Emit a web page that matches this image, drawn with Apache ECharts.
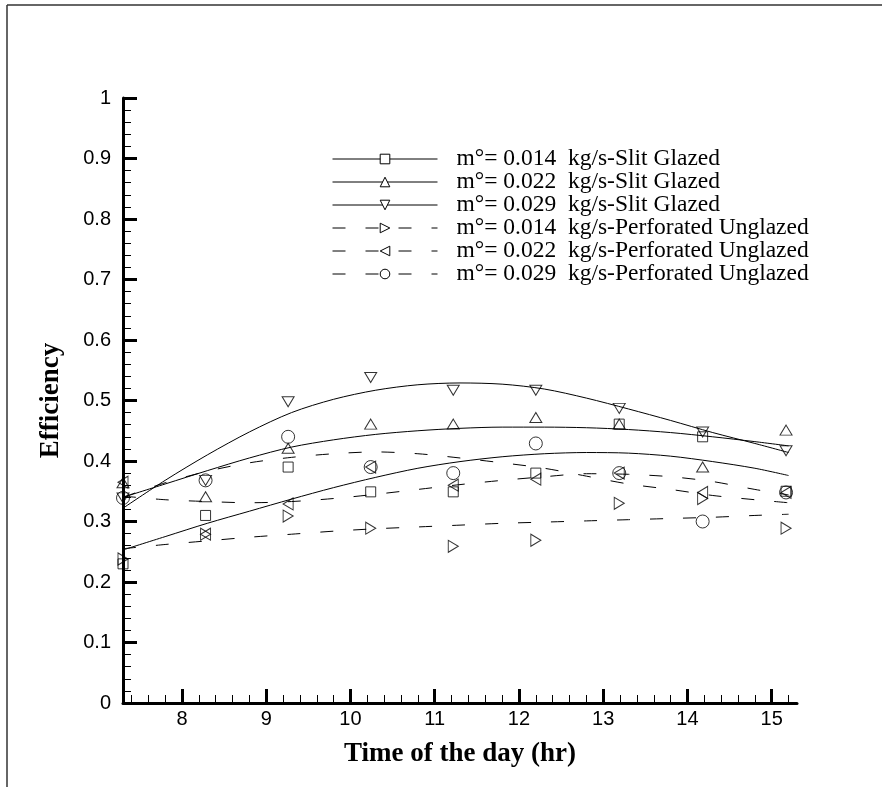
<!DOCTYPE html>
<html lang="en">
  <head>
    <meta charset="UTF-8" />
    <title>Efficiency vs time of the day</title>
    <script src="https://cdn.jsdelivr.net/npm/echarts@6.0.0/dist/echarts.min.js"></script>
    <style>
      html, body { margin: 0; padding: 0; background: #fff; }
    </style>
  </head>
  <body>
    <div id="main" style="width: 882px; height: 787px"></div>

    <script type="text/javascript">
      // measurement times (hr)
      const hours = [7.3, 8.28, 9.26, 10.24, 11.22, 12.2, 13.19, 14.18, 15.17];
      // times at which the fitted curves were read
      const fitHours = [7.3, 7.8, 8.3, 8.8, 9.3, 9.8, 10.3, 10.8, 11.3, 11.8, 12.3, 12.8, 13.3, 13.8, 14.3, 14.8, 15.2];
      const xTicks = [8, 9, 10, 11, 12, 13, 14, 15];

      const names = [
        "m°= 0.014  kg/s-Slit Glazed",
        "m°= 0.022  kg/s-Slit Glazed",
        "m°= 0.029  kg/s-Slit Glazed",
        "m°= 0.014  kg/s-Perforated Unglazed",
        "m°= 0.022  kg/s-Perforated Unglazed",
        "m°= 0.029  kg/s-Perforated Unglazed",
      ];

      // measured points
      const slit014 = [0.23, 0.31, 0.39, 0.349, 0.349, 0.38, 0.461, 0.44, 0.35];
      const slit022 = [0.364, 0.341, 0.421, 0.461, 0.461, 0.472, 0.461, 0.39, 0.451];
      const slit029 = [0.339, 0.368, 0.498, 0.538, 0.517, 0.517, 0.487, 0.448, 0.417];
      const perf014 = [0.238, 0.279, 0.309, 0.289, 0.259, 0.269, 0.33, 0.338, 0.289];
      const perf022 = [0.365, 0.279, 0.329, 0.39, 0.36, 0.37, 0.38, 0.348, 0.348];
      const perf029 = [0.339, 0.368, 0.44, 0.39, 0.38, 0.429, 0.38, 0.3, 0.348];

      // fitted curves, read at fitHours
      const slit014Fit = [0.253, 0.275, 0.297, 0.317, 0.337, 0.356, 0.373, 0.388, 0.399, 0.407, 0.412, 0.414, 0.413, 0.408, 0.399, 0.388, 0.376];
      const slit022Fit = [0.34, 0.362, 0.384, 0.405, 0.423, 0.435, 0.444, 0.45, 0.454, 0.456, 0.456, 0.455, 0.452, 0.447, 0.44, 0.432, 0.425];
      const slit029Fit = [0.322, 0.368, 0.41, 0.448, 0.48, 0.502, 0.517, 0.526, 0.529, 0.527, 0.519, 0.504, 0.486, 0.467, 0.447, 0.429, 0.414];
      const perf014Fit = [0.255, 0.262, 0.268, 0.274, 0.279, 0.284, 0.288, 0.291, 0.294, 0.297, 0.299, 0.301, 0.303, 0.305, 0.307, 0.31, 0.312];
      const perf022Fit = [0.342, 0.336, 0.333, 0.331, 0.333, 0.338, 0.345, 0.353, 0.361, 0.368, 0.374, 0.379, 0.378, 0.374, 0.366, 0.353, 0.344];
      const perf029Fit = [0.34, 0.364, 0.383, 0.397, 0.406, 0.412, 0.415, 0.412, 0.405, 0.397, 0.388, 0.375, 0.362, 0.353, 0.343, 0.336, 0.331];

      const points = [slit014, slit022, slit029, perf014, perf022, perf029];
      const fits = [slit014Fit, slit022Fit, slit029Fit, perf014Fit, perf022Fit, perf029Fit];

      const symbols = ["rect", "triangle", "triangle", "triangle", "triangle", "circle"];
      const rotations = [0, 0, 180, -90, 90, 0];
      const sizes = [[10, 10], [12, 10], [12, 10], [12, 10], [12, 10], [13, 13]];
      const dashed = [false, false, false, true, true, true];

      // minor ticks every 0.2 hr
      const xMinor = [];
      for (let v = 7.4; v < 15.3; v += 0.2) {
        const r = Math.round(v * 10) / 10;
        if (Math.abs(r - Math.round(r)) > 0.01) xMinor.push(r);
      }

      const pair = (xs, ys) => ys.map((y, i) => [xs[i], y]);

      const series = [];
      names.forEach((name, k) => {
        series.push({
          type: "line",
          name: name,
          data: pair(fitHours, fits[k]),
          smooth: 0.3,
          showSymbol: false,
          symbol: symbols[k],
          symbolRotate: rotations[k],
          symbolSize: sizes[k],
          clip: false,
          silent: true,
          lineStyle: { color: "#000", width: 1, type: dashed[k] ? [13, 20] : "solid" },
          itemStyle: { color: "#000" },
        });
      });
      names.forEach((name, k) => {
        series.push({
          type: "scatter",
          name: name,
          data: pair(hours, points[k]),
          symbol: symbols[k],
          symbolRotate: rotations[k],
          symbolSize: sizes[k],
          clip: false,
          silent: true,
          itemStyle: { color: "rgba(0,0,0,0)", borderColor: "#000", borderWidth: 1 },
          z: 3,
        });
      });

      const labelFont = { color: "#000", fontFamily: "Liberation Sans", fontSize: 20 };
      const titleFont = { color: "#000", fontFamily: "Liberation Serif", fontSize: 27, fontWeight: "bold" };

      let myChart = echarts.init(document.getElementById("main"));

      const options = {
        animation: false,
        grid: { left: 123, right: 85, top: 98, bottom: 84, outerBoundsMode: "none", containLabel: false },
        legend: {
          data: names,
          orient: "vertical",
          left: 332,
          top: 147,
          padding: 0,
          itemWidth: 105,
          itemHeight: 12,
          itemGap: -1,
          selectedMode: false,
          textStyle: { color: "#000", fontFamily: "Liberation Serif", fontSize: 23.5, lineHeight: 23, padding: [0, 0, 0, 14] },
          itemStyle: { color: "#fff", borderColor: "#000", borderWidth: 1 },
          lineStyle: { width: 1, color: "#000" },
        },
        xAxis: [
          {
            type: "value",
            min: 7.3,
            max: 15.3,
            position: "bottom",
            name: "Time of the day (hr)",
            nameLocation: "middle",
            nameGap: 38,
            nameTextStyle: titleFont,
            axisLine: { show: true, onZero: false, lineStyle: { color: "#000", width: 3 } },
            axisTick: { show: true, inside: true, length: 14, customValues: xTicks, lineStyle: { color: "#000", width: 3 } },
            axisLabel: Object.assign({ customValues: xTicks, margin: 6 }, labelFont),
            splitLine: { show: false },
          },
          {
            type: "value",
            min: 7.3,
            max: 15.3,
            position: "bottom",
            axisLine: { show: false, onZero: false },
            axisTick: { show: true, inside: true, length: 8, customValues: xMinor, lineStyle: { color: "#000", width: 1 } },
            axisLabel: { show: false },
            splitLine: { show: false },
          },
        ],
        yAxis: {
          type: "value",
          min: 0,
          max: 1,
          interval: 0.1,
          name: "Efficiency",
          nameLocation: "middle",
          nameGap: 58,
          nameTextStyle: titleFont,
          axisLine: { show: true, onZero: false, lineStyle: { color: "#000", width: 3 } },
          axisTick: { show: true, inside: true, length: 14, lineStyle: { color: "#000", width: 3 } },
          minorTick: { show: true, splitNumber: 5, length: 8, lineStyle: { color: "#000", width: 1 } },
          axisLabel: Object.assign({ margin: 12 }, labelFont),
          splitLine: { show: false },
          minorSplitLine: { show: false },
        },
        graphic: [
          { type: "line", shape: { x1: 7, y1: 5, x2: 882, y2: 5 }, style: { stroke: "#333", lineWidth: 1.5 } },
          { type: "line", shape: { x1: 7, y1: 5, x2: 7, y2: 787 }, style: { stroke: "#333", lineWidth: 1.5 } },
        ],
        series: series,
      };

      myChart.setOption(options);
    </script>
  </body>
</html>
